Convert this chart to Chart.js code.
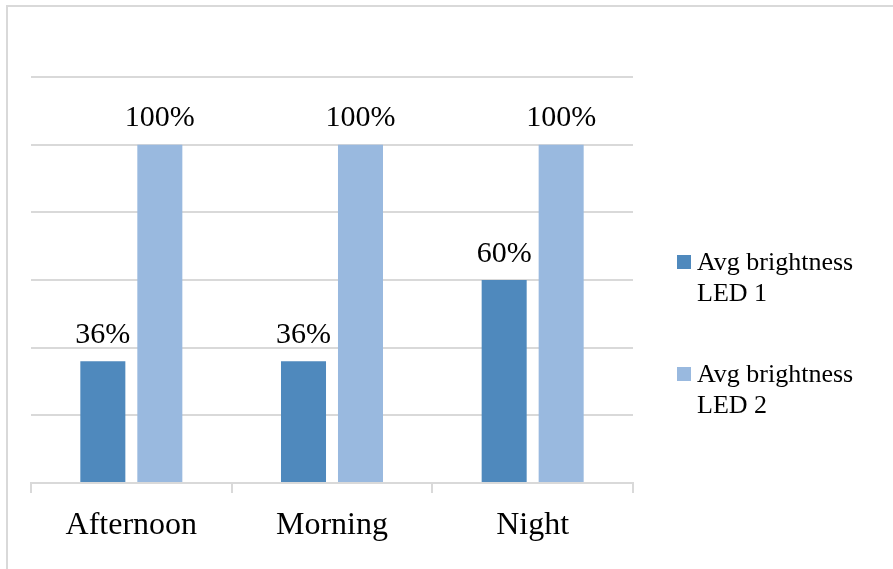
<!DOCTYPE html>
<html>
<head>
<meta charset="utf-8">
<script src="https://cdn.jsdelivr.net/npm/chart.js@4/dist/chart.umd.min.js"></script>
<style>
  html, body { margin: 0; padding: 0; background: #ffffff; }
  #wrap { position: relative; width: 893px; height: 569px; overflow: hidden; }
  #frame { position: absolute; left: 6px; top: 5px; width: 900px; height: 600px;
           border-left: 2px solid #d9d9d9; border-top: 2px solid #d9d9d9; box-sizing: border-box; }
  canvas { position: absolute; left: 0; top: 0; }
</style>
</head>
<body>
<div id="wrap">
  <div id="frame"></div>
  <canvas id="c" width="893" height="569"></canvas>
</div>
<script>
const categories = ["Afternoon", "Morning", "Night"];
const seriesNames = [["Avg brightness", "LED 1"], ["Avg brightness", "LED 2"]];
const led1Values = [36, 36, 60];
const led2Values = [100, 100, 100];
const yMax = 120;
const yStep = 20;

const colors = ["#4f89bd", "#99b9df"];
const serif = "'Liberation Serif', 'Times New Roman', serif";

const dataLabelPlugin = {
  id: 'dataLabels',
  afterDatasetsDraw(chart) {
    const ctx = chart.ctx;
    ctx.save();
    ctx.font = "30px " + serif;
    ctx.fillStyle = "#000000";
    ctx.textAlign = "center";
    ctx.textBaseline = "alphabetic";
    chart.data.datasets.forEach((ds, di) => {
      const meta = chart.getDatasetMeta(di);
      meta.data.forEach((bar, i) => {
        ctx.fillText(ds.data[i] + "%", bar.x, bar.y - 18.5);
      });
    });
    ctx.restore();
  }
};

const legendPlugin = {
  id: 'customLegend',
  afterDraw(chart) {
    const ctx = chart.ctx;
    const area = chart.chartArea;
    ctx.save();
    ctx.font = "26px " + serif;
    ctx.fillStyle = "#000000";
    ctx.textAlign = "left";
    ctx.textBaseline = "alphabetic";
    chart.data.datasets.forEach((ds, di) => {
      const baseY = 270 + di * 112;
      const boxX = area.right + 44;
      ctx.fillStyle = ds.backgroundColor;
      ctx.fillRect(boxX, baseY - 15, 14, 14);
      ctx.fillStyle = "#000000";
      const lines = seriesNames[di];
      lines.forEach((ln, li) => {
        ctx.fillText(ln, boxX + 20, baseY + li * 31);
      });
    });
    ctx.restore();
  }
};

new Chart(document.getElementById('c'), {
  type: 'bar',
  data: {
    labels: categories,
    datasets: [
      { label: seriesNames[0].join(' '), data: led1Values, backgroundColor: colors[0],
        categoryPercentage: 0.568, barPercentage: 0.79 },
      { label: seriesNames[1].join(' '), data: led2Values, backgroundColor: colors[1],
        categoryPercentage: 0.568, barPercentage: 0.79 }
    ]
  },
  options: {
    responsive: false,
    animation: false,
    layout: { padding: { left: 31, right: 260, top: 77, bottom: 10.6 } },
    plugins: {
      legend: { display: false },
      tooltip: { enabled: false },
      title: { display: false }
    },
    scales: {
      x: {
        grid: { offset: true, drawOnChartArea: false, drawTicks: true, tickLength: 10,
                color: "#d9d9d9", lineWidth: 2 },
        border: { display: true, color: "#d9d9d9", width: 2 },
        ticks: { color: "#000000", font: { family: serif, size: 32, lineHeight: 1.2 }, padding: 13.5,
                 maxRotation: 0 }
      },
      y: {
        min: 0, max: yMax,
        grid: { color: "#d9d9d9", lineWidth: 2, drawTicks: false },
        border: { display: false },
        ticks: { display: false, stepSize: yStep }
      }
    }
  },
  plugins: [dataLabelPlugin, legendPlugin]
});
</script>
</body>
</html>
